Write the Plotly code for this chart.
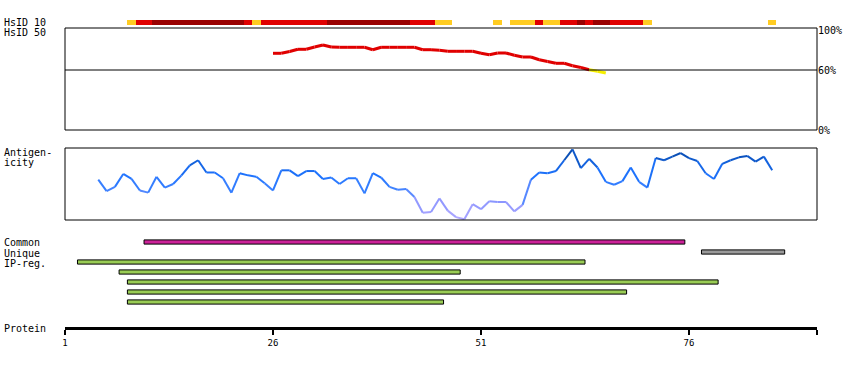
import plotly.graph_objects as go

# ---------------- data ----------------
RESIDUES = list(range(1, 92))
# HsID 10 conservation level per residue (0 none, 1 low, 2 mid, 3 high)
HSID10_LEVEL = [0, 0, 0, 0, 0, 0, 0, 0, 1, 2,
                2, 3, 3, 3, 3, 3, 3, 3, 3, 3,
                3, 3, 2, 1, 2, 2, 2, 2, 2, 2,
                2, 2, 3, 3, 3, 3, 3, 3, 3, 3,
                3, 3, 2, 2, 2, 1, 1, 0, 0, 0,
                0, 0, 1, 0, 1, 1, 1, 2, 1, 1,
                2, 2, 3, 2, 3, 3, 2, 2, 2, 2,
                1, 0, 0, 0, 0, 0, 0, 0, 0, 0,
                0, 0, 0, 0, 0, 1, 0, 0, 0, 0,
                0]
HSID10_COLORS = {1: "#ffcc22", 2: "#e00000", 3: "#990000"}

HSID50_RESIDUES = list(range(26, 67))
HSID50_VALUES = [76.7, 76.7, 78.5, 80.7, 80.7, 83.0, 85.0, 83.0, 82.7, 82.7,
                 82.7, 82.7, 80.3, 82.7, 82.7, 82.7, 82.7, 82.7, 80.3, 80.3,
                 79.7, 78.7, 78.7, 78.7, 78.7, 76.7, 75.3, 77.0, 77.0, 74.7,
                 73.0, 73.0, 70.3, 68.5, 66.7, 66.7, 64.3, 62.5, 60.3, 58.7,
                 57.0]
HSID50_THRESHOLD = 60

ANTIGEN_RESIDUES = list(range(5, 87))
ANTIGEN_SCORES = [56, 40, 46, 64, 57, 41, 38, 60, 45, 50,
                  62, 76, 83, 66, 66, 58, 38, 65, 62, 60,
                  51, 41, 69, 69, 61, 68, 68, 57, 59, 50,
                  58, 58, 37, 65, 59, 46, 42, 43, 32, 10,
                  11, 30, 13, 4, 1, 22, 15, 26, 25, 25,
                  12, 21, 56, 66, 65, 68, 83, 98, 72, 85,
                  73, 53, 49, 54, 73, 53, 45, 86, 83, 88,
                  93, 86, 82, 65, 57, 78, 83, 87, 89, 81,
                  88, 69]

COMMON_START = [11]
COMMON_END = [75]
UNIQUE_START = [78]
UNIQUE_END = [87]
IPREG_START = [3, 8, 9, 9, 9]
IPREG_END = [63, 48, 79, 68, 46]

AXIS_TICKS = [1, 26, 51, 76]
PCT_TICKS = [0, 60, 100]
PCT_LABELS = ["0%", "60%", "100%"]

# ---------------- geometry / style ----------------
W, H = 850, 370
PLOT_L, PLOT_R = 65, 817
RES_PX = 8.32
X_MIN = 1
X_MAX = X_MIN + (PLOT_R - PLOT_L) / RES_PX
FONT = "DejaVu Sans Mono"


def ydom(top, bottom):
    return [1 - bottom / H, 1 - top / H]


def px_x(px):
    return (px - PLOT_L) / (PLOT_R - PLOT_L)


def px_y(py):
    return 1 - py / H


def lerp_color(v):
    stops = [(0, (180, 170, 255)), (25, (140, 150, 255)), (45, (60, 130, 255)),
             (62, (30, 115, 255)), (78, (20, 100, 225)), (90, (10, 80, 185)),
             (100, (10, 55, 130))]
    for (a, ca), (b, cb) in zip(stops[:-1], stops[1:]):
        if v <= b:
            t = (v - a) / (b - a)
            c = [round(ca[k] + (cb[k] - ca[k]) * t) for k in range(3)]
            return "rgb(%d,%d,%d)" % tuple(c)
    return "rgb(%d,%d,%d)" % stops[-1][1]


fig = go.Figure()

# HsID 10 strip
for lvl, col in HSID10_COLORS.items():
    xs = [r for r, l in zip(RESIDUES, HSID10_LEVEL) if l == lvl]
    fig.add_trace(go.Bar(x=xs, y=[1] * len(xs), width=1, base=0,
                         marker=dict(color=col, line=dict(width=0)),
                         xaxis="x", yaxis="y", hoverinfo="skip", showlegend=False))

# HsID 50 line (red above threshold, yellow below)
red_x, red_y, yel_x, yel_y = [], [], [], []
for i in range(len(HSID50_VALUES) - 1):
    seg_x = [HSID50_RESIDUES[i], HSID50_RESIDUES[i + 1], None]
    seg_y = [HSID50_VALUES[i], HSID50_VALUES[i + 1], None]
    if min(HSID50_VALUES[i], HSID50_VALUES[i + 1]) >= HSID50_THRESHOLD:
        red_x += seg_x
        red_y += seg_y
    else:
        yel_x += seg_x
        yel_y += seg_y
fig.add_trace(go.Scatter(x=red_x, y=red_y, mode="lines", line=dict(color="#e00000", width=3),
                         xaxis="x", yaxis="y2", hoverinfo="skip", showlegend=False))
fig.add_trace(go.Scatter(x=yel_x, y=yel_y, mode="lines", line=dict(color="#f5ef00", width=3),
                         xaxis="x", yaxis="y2", hoverinfo="skip", showlegend=False))

# Antigenicity line, coloured by value
for i in range(len(ANTIGEN_SCORES) - 1):
    v = (ANTIGEN_SCORES[i] + ANTIGEN_SCORES[i + 1]) / 2
    fig.add_trace(go.Scatter(x=ANTIGEN_RESIDUES[i:i + 2], y=ANTIGEN_SCORES[i:i + 2],
                             mode="lines", line=dict(color=lerp_color(v), width=2),
                             xaxis="x", yaxis="y3", hoverinfo="skip", showlegend=False))

# Feature lanes
lanes = []
lanes += [(0, s, e, "#cc2299") for s, e in zip(COMMON_START, COMMON_END)]
lanes += [(1, s, e, "#999999") for s, e in zip(UNIQUE_START, UNIQUE_END)]
lanes += [(2 + k, s, e, "#99cc55") for k, (s, e) in enumerate(zip(IPREG_START, IPREG_END))]
for lane, s, e, col in lanes:
    fig.add_trace(go.Bar(y=[lane], x=[e - s + 1], base=[s - 0.5], orientation="h", width=0.42,
                         marker=dict(color=col, line=dict(color="black", width=1)),
                         xaxis="x", yaxis="y4", hoverinfo="skip", showlegend=False))

shapes = [
    dict(type="rect", xref="paper", yref="y2 domain", x0=0, x1=1, y0=0, y1=1,
         line=dict(color="black", width=1)),
    dict(type="line", xref="paper", yref="y2", x0=0, x1=1, y0=60, y1=60,
         line=dict(color="black", width=1)),
    dict(type="rect", xref="paper", yref="y3 domain", x0=0, x1=1, y0=0, y1=1,
         line=dict(color="black", width=1)),
]

labels = [("HsID 10", 22.5), ("HsID 50", 32.5), ("Antigen-", 152.5), ("icity", 163),
          ("Common", 243), ("Unique", 253), ("IP-reg.", 263), ("Protein", 328)]
annotations = [dict(text=t, xref="paper", yref="paper", x=px_x(2), y=px_y(py),
                    xanchor="left", yanchor="middle", showarrow=False,
                    font=dict(family=FONT, size=10, color="black"))
               for t, py in labels]

fig.update_layout(
    template="none",
    width=W, height=H, autosize=False,
    margin=dict(l=PLOT_L, r=W - PLOT_R, t=0, b=0, pad=0),
    paper_bgcolor="white", plot_bgcolor="rgba(0,0,0,0)",
    barmode="overlay", bargap=0,
    showlegend=False, hovermode=False,
    shapes=shapes, annotations=annotations,
    xaxis=dict(range=[X_MIN, X_MAX], anchor="free", position=px_y(328), automargin=False,
               showline=True, linecolor="black", linewidth=3,
               showgrid=False, zeroline=False,
               tickvals=AXIS_TICKS + [X_MAX], ticktext=[str(t) for t in AXIS_TICKS] + [""],
               ticks="outside", ticklen=5, tickwidth=2, tickcolor="black",
               tickfont=dict(family=FONT, size=9, color="black")),
    yaxis=dict(domain=ydom(20, 25), range=[0, 1], visible=False, automargin=False),
    yaxis2=dict(domain=ydom(28, 130), range=[0, 102], anchor="x", side="right", automargin=False,
                showgrid=False, zeroline=False, showline=False, ticks="",
                tickvals=PCT_TICKS, ticktext=PCT_LABELS,
                tickfont=dict(family=FONT, size=10, color="black")),
    yaxis3=dict(domain=ydom(148, 220), range=[0, 100], visible=False, automargin=False),
    yaxis4=dict(domain=ydom(237, 307), range=[6.5, -0.5], visible=False, automargin=False),
)

fig.write_html("out.html", config={"displayModeBar": False, "staticPlot": True},
               post_script="document.body.style.margin='0';document.body.style.overflow='hidden';")
